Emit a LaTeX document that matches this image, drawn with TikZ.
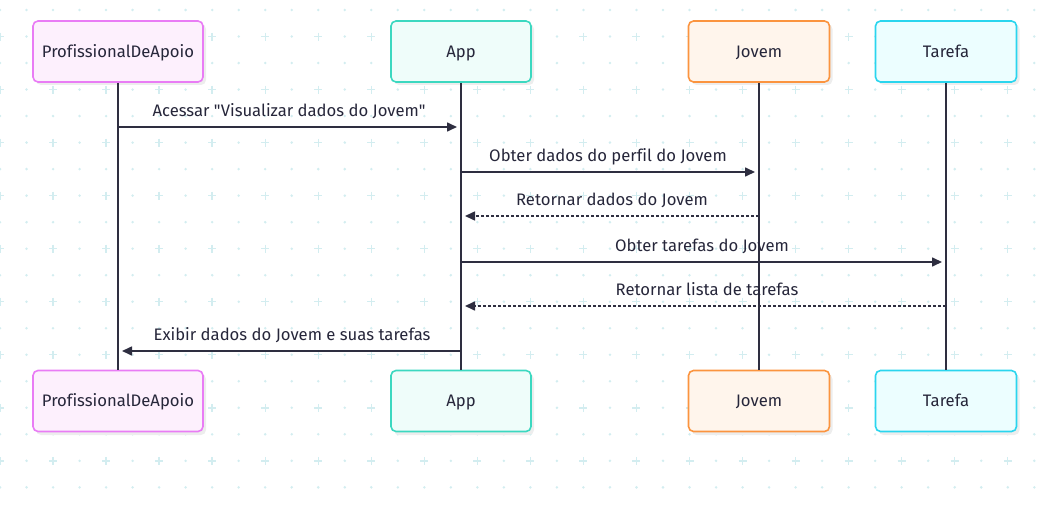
\documentclass[tikz,border=0pt]{standalone}
\usepackage{fontspec}
\setmainfont{Fira Sans}
\newfontfamily\plainfont{Fira Sans}[Ligatures=NoCommon]
\usetikzlibrary{arrows.meta}
\definecolor{gridc}{HTML}{D3EDF0}
\definecolor{ink}{HTML}{2E2E40}
\definecolor{txt}{HTML}{26263A}
\definecolor{profB}{HTML}{E97CF5}\definecolor{profF}{HTML}{FDF0FD}
\definecolor{appB}{HTML}{3CD8C0}\definecolor{appF}{HTML}{EFFDFA}
\definecolor{jovB}{HTML}{FB943F}\definecolor{jovF}{HTML}{FFF5EC}
\definecolor{tarB}{HTML}{2AD5EE}\definecolor{tarF}{HTML}{ECFEFF}
\tikzset{
  actor/.style={draw=#1B, fill=#1F, line width=1.2pt, rounded corners=3.75pt,
    minimum height=45.75pt, inner sep=0pt, text height=10.5pt, text depth=1.8pt,
    text=txt, font=\plainfont\fontsize{12.5pt}{14pt}\selectfont},
  shadowbox/.style={fill=black!7, rounded corners=3.75pt, draw=none},
  life/.style={draw=ink, line width=1.2pt},
  msg/.style={draw=ink, line width=1.2pt, -{Triangle[length=7.5pt,width=6.75pt]}, shorten >=3pt},
  ret/.style={msg, dash pattern=on 2.25pt off 1.5pt},
  lbl/.style={text=txt, font=\plainfont\fontsize{12.5pt}{14pt}\selectfont, inner sep=0pt, anchor=base},
}
\begin{document}
\begin{tikzpicture}[x=0.75pt,y=-0.75pt]
\useasboundingbox (0,0) rectangle (1042,506);
% background grid
\foreach \j in {0,...,18}{
  \foreach \k in {0,...,39}{
    \pgfmathsetmacro{\xx}{26.52*\k}
    \pgfmathsetmacro{\yy}{10+26.52*\j}
    \pgfmathtruncatemacro{\isplus}{(mod(\j,2)==1)&&(mod(\k,2)==0)}
    \ifnum\isplus=1
      \draw[gridc, line width=1.05pt] (\xx-4,\yy) -- (\xx+4,\yy) (\xx,\yy-4) -- (\xx,\yy+4);
    \else
      \fill[gridc] (\xx,\yy) circle (1.05pt);
    \fi
  }
}
% shadows
\foreach \cx/\w in {118/170,461/140,759/141,946/141}{
  \fill[shadowbox] (\cx-\w/2+3,24) rectangle (\cx+\w/2+3,85);
  \fill[shadowbox] (\cx-\w/2+3,374) rectangle (\cx+\w/2+3,435);
}
% actors
\node[actor=prof, minimum width=127.5pt] (prof) at (118,51.5) {ProfissionalDeApoio};
\node[actor=app, minimum width=105pt] (app) at (461,51.5) {App};
\node[actor=jov, minimum width=105.75pt] (jov) at (759,51.5) {Jovem};
\node[actor=tar, minimum width=105.75pt] (tar) at (946,51.5) {Tarefa};
\node[actor=prof, minimum width=127.5pt] (profb) at (118,401) {ProfissionalDeApoio};
\node[actor=app, minimum width=105pt] (appb) at (461,401) {App};
\node[actor=jov, minimum width=105.75pt] (jovb) at (759,401) {Jovem};
\node[actor=tar, minimum width=105.75pt] (tarb) at (946,401) {Tarefa};
% lifelines
\draw[life] (prof.south) -- (profb.north);
\draw[life] (app.south) -- (appb.north);
\draw[life] (jov.south) -- (jovb.north);
\draw[life] (tar.south) -- (tarb.north);
% messages
\draw[msg] (prof.south |- 0,127) -- (app.south |- 0,127);
\node[lbl] (l1) at (289,116.5) {Acessar "Visualizar dados do Jovem"};
\draw[msg] (app.south |- 0,172) -- (jov.south |- 0,172);
\node[lbl] (l2) at (608,161.5) {Obter dados do perfil do Jovem};
\draw[ret] (jov.south |- 0,216) -- (app.south |- 0,216);
\node[lbl] (l3) at (612,205.5) {Retornar dados do Jovem};
\draw[msg] (app.south |- 0,262) -- (tar.south |- 0,262);
\node[lbl] (l4) at (702,251.5) {Obter tarefas do Jovem};
\draw[ret] (tar.south |- 0,306) -- (app.south |- 0,306);
\node[lbl] (l5) at (707,295.5) {Retornar lista de tarefas};
\draw[msg] (app.south |- 0,351) -- (prof.south |- 0,351);
\node[lbl] (l6) at (292,340.5) {Exibir dados do Jovem e suas tarefas};
\end{tikzpicture}
\end{document}
